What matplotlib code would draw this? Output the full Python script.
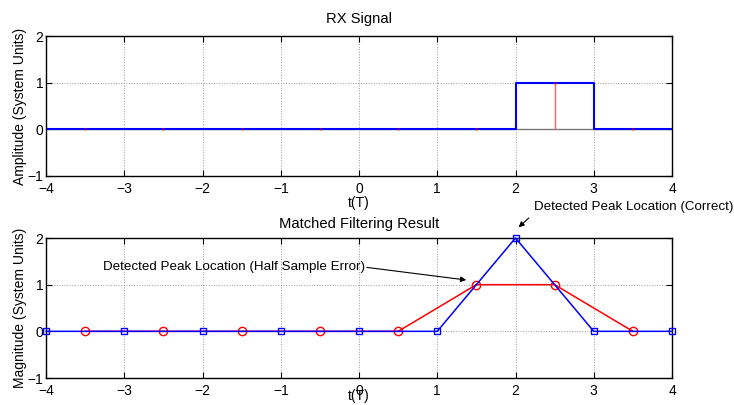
import matplotlib
matplotlib.use('Agg')
import matplotlib.pyplot as plt
import numpy as np

plt.rcParams['font.family'] = ['Liberation Sans', 'DejaVu Sans']
plt.rcParams['font.size'] = 10

# rx signal: rectangular pulse (blue) and half-sample-offset samples (red)
t_pulse = [-4, 2, 2, 3, 3, 4]
a_pulse = [0, 0, 1, 1, 0, 0]
t_half = [-3.5, -2.5, -1.5, -0.5, 0.5, 1.5, 2.5, 3.5]
a_half = [0, 0, 0, 0, 0, 0, 1, 0]

# matched filter outputs
t_int = [-4, -3, -2, -1, 0, 1, 2, 3, 4]
mf_int = [0, 0, 0, 0, 0, 0, 2, 0, 0]
mf_half = [0, 0, 0, 0, 0, 1, 1, 0]

xticks = [-4, -3, -2, -1, 0, 1, 2, 3, 4]
yticks = [-1, 0, 1, 2]


def style(ax, lpad):
    ax.set_xlim(-4, 4)
    ax.set_ylim(-1, 2)
    ax.set_xticks(xticks)
    ax.set_yticks(yticks)
    ax.set_xticklabels([str(v).replace('-', '\u2212') for v in xticks])
    ax.set_yticklabels([str(v).replace('-', '\u2212') for v in yticks])
    ax.grid(True, linestyle=':', color='#999999', linewidth=0.7)
    ax.tick_params(direction='in', top=True, right=True, length=4)
    ax.tick_params(axis='x', pad=4)
    ax.tick_params(axis='y', pad=2)
    for s in ax.spines.values():
        s.set_linewidth(1.0)
    ax.set_xlabel('t(T)', labelpad=lpad)


fig = plt.figure(figsize=(7.34, 4.05), dpi=100)
ax1 = fig.add_axes([46 / 734, 1 - 176 / 405, 626 / 734, 140 / 405])
ax2 = fig.add_axes([46 / 734, 1 - 378 / 405, 626 / 734, 140 / 405])

# top panel
ax1.plot([-4, 4], [0, 0], color='#777777', linewidth=1.0)
ax1.vlines(t_half, 0, a_half, color='#ff6060', linewidth=1.0)
ax1.plot(t_pulse, a_pulse, color='blue', linewidth=1.5)
ax1.plot(t_half, a_half, linestyle='none', marker='|', color='red', markersize=2)
style(ax1, 0)
ax1.set_ylabel('Amplitude (System Units)', labelpad=0)
ax1.set_title('RX Signal', fontsize=10.6, pad=9)

# bottom panel
ax2.plot(t_half, mf_half, color='red', marker='o', markerfacecolor='none',
         markersize=6, linewidth=1.1, clip_on=False, zorder=3)
ax2.plot(t_int, mf_int, color='blue', marker='s', markerfacecolor='none',
         markersize=4.5, linewidth=1.1, clip_on=False, zorder=4)
style(ax2, -6)
ax2.set_ylabel('Magnitude (System Units)', labelpad=0)
ax2.set_title('Matched Filtering Result', fontsize=10.6, pad=7)

arrow = dict(arrowstyle='-|>', color='black', lw=0.8, shrinkA=0, shrinkB=0,
             mutation_scale=8)
ax2.text(2.24, 2.66, 'Detected Peak Location (Correct)', ha='left', va='center',
         fontsize=9.6, clip_on=False)
ax2.annotate('', xy=(2.04, 2.23), xytext=(2.17, 2.43), arrowprops=arrow,
             annotation_clip=False)
ax2.text(0.08, 1.38, 'Detected Peak Location (Half Sample Error)', ha='right',
         va='center', fontsize=9.6)
ax2.annotate('', xy=(1.37, 1.1), xytext=(0.1, 1.37), arrowprops=arrow)

fig.savefig('out.png', dpi=100)
